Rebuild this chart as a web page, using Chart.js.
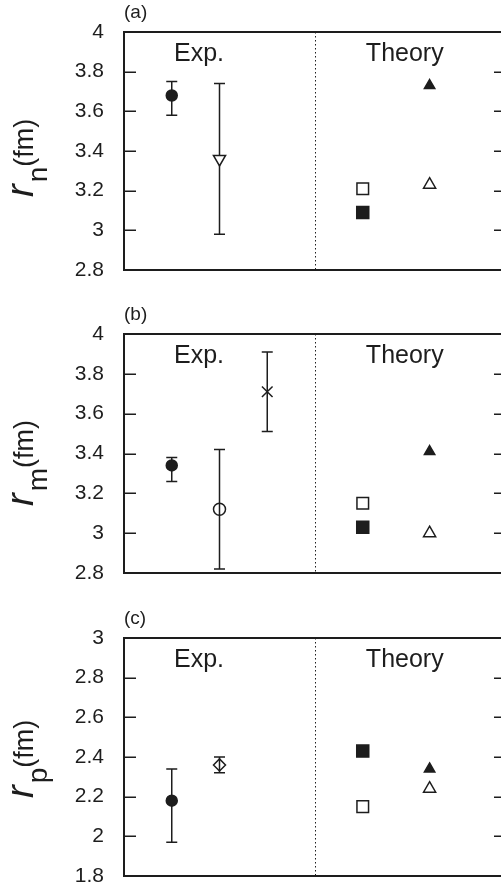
<!DOCTYPE html>
<html>
<head>
<meta charset="utf-8">
<script src="https://cdn.jsdelivr.net/npm/chart.js@4.4.0/dist/chart.umd.min.js"></script>
<style>
  html, body { margin: 0; padding: 0; background: #fff; overflow: hidden; width: 501px; height: 890px; }
  .panel { position: absolute; left: 0; }
  canvas { display: block; }
</style>
</head>
<body>
<div class="panel" style="top:0px"><canvas id="panelA" width="510" height="290"></canvas></div>
<div class="panel" style="top:290px"><canvas id="panelB" width="510" height="300"></canvas></div>
<div class="panel" style="top:590px"><canvas id="panelC" width="510" height="300"></canvas></div>
<script>
// ---- data ----
const panelLabels = ['(a)', '(b)', '(c)'];
const groupLabels = ['Exp.', 'Theory'];
const radiusSubscripts = ['n', 'm', 'p'];

const rnTicks = [2.8, 3, 3.2, 3.4, 3.6, 3.8, 4];
const rmTicks = [2.8, 3, 3.2, 3.4, 3.6, 3.8, 4];
const rpTicks = [1.8, 2, 2.2, 2.4, 2.6, 2.8, 3];

// x slots: experiments on the left half, calculations on the right half
const expSlots = [1, 2, 3];
const theorySlots = [5, 5, 6.4, 6.4];   // open square, filled square, filled triangle, open triangle
const groupLabelSlots = [1.57, 5.88];
const dividerSlot = 4;

// neutron radius r_n
const rnExp = [3.68, 3.36];
const rnExpUpper = [3.75, 3.74];
const rnExpLower = [3.58, 2.98];
const rnTheory = [3.21, 3.09, 3.73, 3.23];

// matter radius r_m
const rmExp = [3.34, 3.12, 3.71];
const rmExpUpper = [3.38, 3.42, 3.91];
const rmExpLower = [3.26, 2.82, 3.51];
const rmTheory = [3.15, 3.03, 3.41, 3.00];

// proton radius r_p
const rpExp = [2.18, 2.36];
const rpExpUpper = [2.34, 2.40];
const rpExpLower = [1.97, 2.32];
const rpTheory = [2.15, 2.43, 2.34, 2.24];

// ---- styling ----
const INK = '#1d1d1d';
const FONT = '"Liberation Sans", Arial, Helvetica, sans-serif';
const NONE = 'rgba(0,0,0,0)';

const MARKS = {
  filledCircle: { style: 'circle',   r: 5.5, fill: INK,    rot: 0 },
  openTriDown:  { style: 'triangle', r: 7,   fill: '#fff', rot: 180 },
  openCircle:   { style: 'circle',   r: 6,   fill: NONE,   rot: 0 },
  cross:        { style: 'crossRot', r: 7.5, fill: INK,    rot: 0 },
  openDiamond:  { style: 'rectRot',  r: 6,   fill: NONE,   rot: 0 },
  openSquare:   { style: 'rect',     r: 8.2, fill: '#fff', rot: 0 },
  filledSquare: { style: 'rect',     r: 8.5, fill: INK,    rot: 0 },
  filledTri:    { style: 'triangle', r: 6,   fill: INK,    rot: 0 },
  openTri:      { style: 'triangle', r: 7,   fill: '#fff', rot: 0 }
};
const theoryMarks = ['openSquare', 'filledSquare', 'filledTri', 'openTri'];

function markerProps(names) {
  return {
    pointStyle: names.map(n => MARKS[n].style),
    pointRadius: names.map(n => MARKS[n].r),
    pointBackgroundColor: names.map(n => MARKS[n].fill),
    pointBorderColor: INK,
    pointBorderWidth: 1.5,
    pointRotation: names.map(n => MARKS[n].rot),
    pointHoverRadius: names.map(n => MARKS[n].r)
  };
}

function buildPanel(canvasId, p) {
  const exp = p.exp.map((v, i) => ({ x: expSlots[i], y: v }));
  const theory = p.theory.map((v, i) => ({ x: theorySlots[i], y: v }));

  const decor = {
    id: 'decor' + canvasId,
    beforeDatasetsDraw(chart) {
      const { ctx, chartArea: a, scales: { x, y } } = chart;
      ctx.save();
      // dotted divider between the two groups
      ctx.strokeStyle = INK;
      ctx.lineWidth = 1;
      ctx.setLineDash([1.5, 2.5]);
      const dx = Math.round(x.getPixelForValue(dividerSlot)) + 0.5;
      ctx.beginPath();
      ctx.moveTo(dx, a.top);
      ctx.lineTo(dx, a.bottom);
      ctx.stroke();
      ctx.setLineDash([]);
      // error bars with caps
      ctx.lineWidth = 1.5;
      p.exp.forEach((v, i) => {
        const px = x.getPixelForValue(expSlots[i]);
        const hi = y.getPixelForValue(p.upper[i]);
        const lo = y.getPixelForValue(p.lower[i]);
        ctx.beginPath();
        ctx.moveTo(px, hi); ctx.lineTo(px, lo);
        ctx.moveTo(px - 5.5, hi); ctx.lineTo(px + 5.5, hi);
        ctx.moveTo(px - 5.5, lo); ctx.lineTo(px + 5.5, lo);
        ctx.stroke();
      });
      ctx.restore();
    },
    afterDraw(chart) {
      const { ctx, chartArea: a, scales: { x, y } } = chart;
      ctx.save();
      // frame
      ctx.strokeStyle = INK;
      ctx.lineWidth = 2;
      ctx.strokeRect(a.left, a.top, a.right - a.left, a.bottom - a.top);
      // inward tick marks on both sides
      ctx.lineWidth = 1.5;
      p.ticks.slice(1, -1).forEach(t => {
        const ty = Math.round(y.getPixelForValue(t)) + 0.25;
        ctx.beginPath();
        ctx.moveTo(a.left, ty); ctx.lineTo(a.left + 12, ty);
        ctx.moveTo(a.right - 12, ty); ctx.lineTo(a.right, ty);
        ctx.stroke();
      });
      // group captions
      ctx.fillStyle = INK;
      ctx.font = '25px ' + FONT;
      ctx.textAlign = 'center';
      ctx.textBaseline = 'alphabetic';
      groupLabels.forEach((g, i) => {
        ctx.fillText(g, x.getPixelForValue(groupLabelSlots[i]), a.top + 29);
      });
      // panel letter
      ctx.font = '19px ' + FONT;
      ctx.textAlign = 'left';
      ctx.fillText(p.label, a.left, a.top - 14);
      // axis title r_X (fm), rotated
      ctx.translate(33, a.top + p.titleStart);
      ctx.rotate(-Math.PI / 2);
      ctx.textAlign = 'left';
      ctx.font = 'italic 38px ' + FONT;
      ctx.fillText('r', 0, 0);
      let cx = ctx.measureText('r').width + 2;
      ctx.font = '28px ' + FONT;
      ctx.fillText(p.sub, cx, 14);
      cx += ctx.measureText(p.sub).width;
      ctx.font = '27px ' + FONT;
      ctx.fillText('(fm)', cx, 0);
      ctx.restore();
    }
  };

  return new Chart(document.getElementById(canvasId), {
    type: 'scatter',
    data: {
      datasets: [
        Object.assign({ label: 'exp', data: exp }, markerProps(p.expMarks)),
        Object.assign({ label: 'theory', data: theory }, markerProps(theoryMarks))
      ]
    },
    options: {
      responsive: false,
      animation: false,
      devicePixelRatio: 1,
      layout: { autoPadding: false, padding: { top: p.padTop, bottom: p.padBottom, left: 0, right: 4 } },
      plugins: { legend: { display: false }, tooltip: { enabled: false } },
      scales: {
        x: { type: 'linear', min: 0, max: 8, display: false },
        y: {
          type: 'linear',
          min: p.ticks[0],
          max: p.ticks[p.ticks.length - 1],
          afterBuildTicks: s => { s.ticks = p.ticks.map(v => ({ value: v })); },
          afterFit: s => { s.width = 124; },
          // the label gap comes from the (undrawn) tick length
          grid: { display: false, drawTicks: true, tickLength: 20 },
          border: { display: false },
          ticks: {
            padding: 0,
            color: INK,
            font: { family: FONT, size: 21 },
            callback: v => String(v)
          }
        }
      }
    },
    plugins: [decor]
  });
}

buildPanel('panelA', {
  label: panelLabels[0], sub: radiusSubscripts[0], ticks: rnTicks,
  exp: rnExp, upper: rnExpUpper, lower: rnExpLower, theory: rnTheory,
  expMarks: ['filledCircle', 'openTriDown'],
  padTop: 32, padBottom: 20, titleStart: 165
});
buildPanel('panelB', {
  label: panelLabels[1], sub: radiusSubscripts[1], ticks: rmTicks,
  exp: rmExp, upper: rmExpUpper, lower: rmExpLower, theory: rmTheory,
  expMarks: ['filledCircle', 'openCircle', 'cross'],
  padTop: 44, padBottom: 17, titleStart: 172
});
buildPanel('panelC', {
  label: panelLabels[2], sub: radiusSubscripts[2], ticks: rpTicks,
  exp: rpExp, upper: rpExpUpper, lower: rpExpLower, theory: rpTheory,
  expMarks: ['filledCircle', 'openDiamond'],
  padTop: 48, padBottom: 14, titleStart: 160
});
</script>
</body>
</html>
